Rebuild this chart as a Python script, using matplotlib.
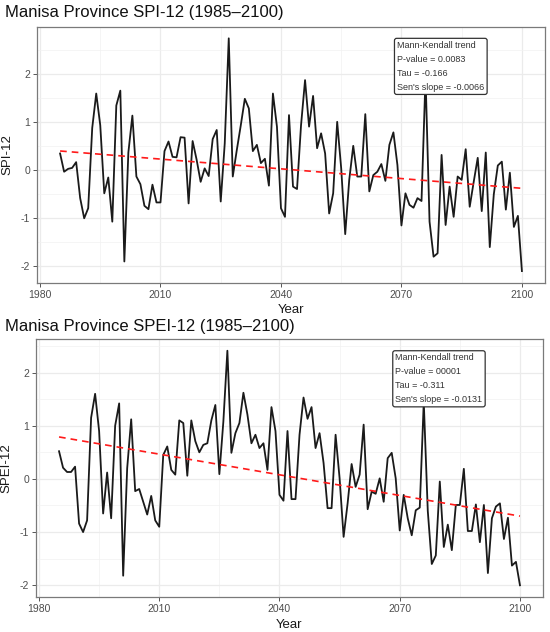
import numpy as np
import matplotlib
matplotlib.use('Agg')
import matplotlib.pyplot as plt
from matplotlib.ticker import MultipleLocator

plt.rcParams['font.family'] = ['Liberation Sans', 'DejaVu Sans']
plt.rcParams['axes.unicode_minus'] = False

# Years 1985-2100, one value per year
years = np.arange(1985, 2101)

spi12 = [
    0.35, -0.03, 0.03, 0.05, 0.17, -0.58, -1.00, -0.79, 0.88, 1.60,      # 1985-1994
    0.94, -0.48, -0.15, -1.07, 1.35, 1.66, -1.90, 0.37, 1.14, -0.13,     # 1995-2004
    -0.29, -0.74, -0.81, -0.30, -0.67, -0.67, 0.40, 0.60, 0.28, 0.27,    # 2005-2014
    0.69, 0.68, -0.69, 0.61, 0.22, -0.24, 0.04, -0.12, 0.65, 0.84,       # 2015-2024
    -0.65, 0.56, 2.75, -0.13, 0.42, 0.94, 1.49, 1.29, 0.40, 0.53,        # 2025-2034
    0.15, 0.24, -0.32, 1.60, 0.91, -0.79, -0.97, 1.15, -0.34, -0.39,     # 2035-2044
    0.94, 1.88, 0.91, 1.55, 0.46, 0.77, 0.35, -0.90, -0.48, 1.01,        # 2045-2054
    0.04, -1.33, -0.20, 0.51, -0.13, -0.13, 1.17, -0.44, -0.10, -0.03,   # 2055-2064
    0.13, -0.22, 0.53, 0.79, 0.11, -1.15, -0.48, -0.72, -0.78, -0.58,    # 2065-2074
    -0.64, 1.95, -1.07, -1.80, -1.73, 0.32, -1.14, -0.34, -0.97, -0.13,  # 2075-2084
    -0.20, 0.44, -0.76, -0.24, 0.26, -0.85, 0.37, -1.60, -0.50, 0.10,    # 2085-2094
    0.18, -0.82, -0.05, -1.18, -0.95, -2.10,                             # 2095-2100
]

spei12 = [
    0.52, 0.21, 0.13, 0.13, 0.23, -0.84, -1.00, -0.78, 1.15, 1.60,       # 1985-1994
    0.90, -0.65, 0.12, -0.74, 1.00, 1.42, -1.82, 0.20, 1.12, -0.23,      # 1995-2004
    -0.19, -0.43, -0.67, -0.32, -0.78, -0.90, 0.45, 0.61, 0.17, 0.08,    # 2005-2014
    1.10, 1.05, 0.06, 1.10, 0.71, 0.50, 0.64, 0.67, 1.10, 1.39,          # 2015-2024
    0.09, 1.08, 2.41, 0.49, 0.86, 1.05, 1.62, 1.21, 0.67, 0.83,          # 2025-2034
    0.58, 0.67, 0.17, 1.35, 0.90, -0.30, -0.41, 0.90, -0.38, -0.38,      # 2035-2044
    0.83, 1.53, 1.13, 1.35, 0.58, 0.86, 0.30, -0.55, -0.55, 0.83,        # 2045-2054
    0.01, -1.09, -0.46, 0.28, -0.15, 0.08, 1.02, -0.57, -0.24, -0.28,    # 2055-2064
    0.01, -0.43, 0.39, 0.49, 0.01, -0.97, -0.30, -0.74, -1.06, -0.59,    # 2065-2074
    -0.54, 1.45, -0.60, -1.60, -1.44, -0.05, -1.28, -0.86, -1.34, -0.49, # 2075-2084
    -0.49, 0.19, -0.98, -0.98, -0.48, -1.19, -0.49, -1.77, -0.74, -0.52, # 2085-2094
    -0.46, -1.13, -0.73, -1.63, -1.56, -2.00,                            # 2095-2100
]

titles = ['Manisa Province SPI-12 (1985\u20132100)', 'Manisa Province SPEI-12 (1985\u20132100)']
ylabels = ['SPI-12', 'SPEI-12']
mk_pvalue = ['0.0083', '00001']
mk_tau = ['-0.166', '-0.311']
mk_slope = ['-0.0066', '-0.0131']


def theil_sen(x, y):
    x = np.asarray(x, float)
    y = np.asarray(y, float)
    i, j = np.triu_indices(len(x), k=1)
    slope = np.median((y[j] - y[i]) / (x[j] - x[i]))
    intercept = np.median(y - slope * x)
    return slope, intercept


fig = plt.figure(figsize=(5.5, 6.32), dpi=100)

# axes boxes in figure pixels: left, top, right, bottom
boxes = [(37, 26.7, 545, 282.7), (36, 339, 543, 597)]
title_y = [12, 326]
W, H = 550, 632

for k, values in enumerate([spi12, spei12]):
    l, t, r, b = boxes[k]
    ax = fig.add_axes([l / W, 1 - b / H, (r - l) / W, (b - t) / H])
    vals = np.array(values)

    # ggplot-style 5% expansion
    xr = years.max() - years.min()
    ax.set_xlim(years.min() - 0.05 * xr, years.max() + 0.05 * xr)
    yr = vals.max() - vals.min()
    ax.set_ylim(vals.min() - 0.05 * yr, vals.max() + 0.05 * yr)

    ax.xaxis.set_major_locator(MultipleLocator(30))
    ax.xaxis.set_minor_locator(MultipleLocator(15))
    ax.yaxis.set_major_locator(MultipleLocator(1))
    ax.yaxis.set_minor_locator(MultipleLocator(0.5))
    ax.set_xticks([1980, 2010, 2040, 2070, 2100])

    ax.grid(which='major', color='#EBEBEB', lw=0.9, zorder=0)
    ax.grid(which='minor', color='#F2F2F2', lw=0.5, zorder=0)
    ax.set_axisbelow(True)
    for s in ax.spines.values():
        s.set_color('#7A7A7A')
        s.set_linewidth(0.9)
    ax.tick_params(which='major', length=3, width=0.7, color='#555555',
                   labelsize=7.5, labelcolor='#4D4D4D', pad=2)
    ax.tick_params(which='minor', length=0)

    ax.plot(years, vals, color='#1A1A1A', lw=1.3, zorder=3)

    slope, intercept = theil_sen(years, vals)
    ax.plot(years, slope * years + intercept, color='#FF1A1A', lw=1.2,
            ls=(0, (4, 3)), zorder=4)

    ax.set_ylabel(ylabels[k], fontsize=9.5, color='#1A1A1A')
    ax.yaxis.set_label_coords(-0.046, 0.5)
    ax.set_xlabel('Year', fontsize=9.5, color='#1A1A1A')
    ax.xaxis.set_label_coords(0.5, -0.085)

    txt = ('Mann-Kendall trend\nP-value = %s\nTau = %s\nSen\'s slope = %s'
           % (mk_pvalue[k], mk_tau[k], mk_slope[k]))
    ax.text(0.709, 0.944, txt, transform=ax.transAxes, ha='left', va='top',
            fontsize=6.5, color='#333333', linespacing=1.7, zorder=6,
            bbox=dict(boxstyle='round,pad=0.3,rounding_size=0.25',
                      fc='white', ec='#333333', lw=0.9))

    fig.text(5 / W, 1 - title_y[k] / H, titles[k], fontsize=12,
             ha='left', va='center', color='#111111')

fig.savefig('out.png', dpi=100)
